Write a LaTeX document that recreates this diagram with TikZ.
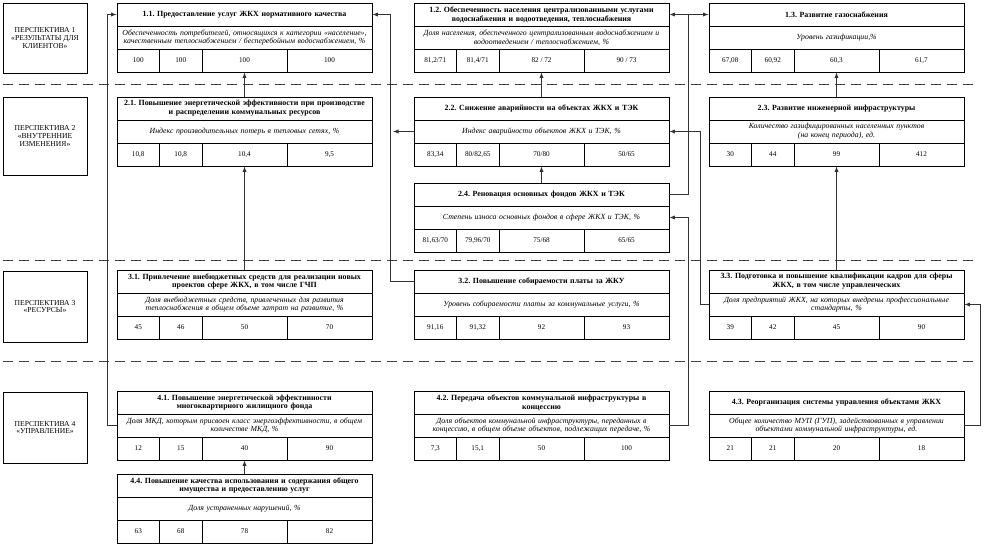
\documentclass[tikz,border=0pt]{standalone}
\usepackage{fontspec}
\setmainfont{Liberation Serif}
\usetikzlibrary{shapes,arrows}
\frenchspacing

\begin{document}
\begin{tikzpicture}[x=1pt, y=-1pt]
\tikzstyle{titler}=[rectangle, draw, line width=0.9pt, minimum height=23pt, text width=253pt, inner sep=1pt, align=center, font=\bfseries\fontsize{7.9}{8.8}\selectfont]
\tikzstyle{indr}=[rectangle, draw, line width=0.9pt, minimum height=23pt, text width=253pt, inner sep=1pt, align=center, font=\itshape\fontsize{7.8}{8.8}\selectfont]
\tikzstyle{valn}=[rectangle, draw, line width=0.9pt, minimum height=23pt, minimum width=42.5pt, inner sep=0pt, font=\fontsize{7.2}{8}\selectfont]
\tikzstyle{valw}=[valn, minimum width=85pt]
\tikzstyle{persp}=[rectangle, draw, line width=0.9pt, minimum width=84pt, minimum height=70pt, align=center, font=\fontsize{7.6}{7.6}\selectfont]
\tikzstyle{sepline}=[line width=1pt, dash pattern=on 10pt off 6pt, black!75]
\tikzstyle{drawstyle}=[line width=0.9pt, black!80, -latex]

\useasboundingbox (0,0) rectangle (986,546);

% perspectives
\node[persp] (P1) at (45,38) {ПЕРСПЕКТИВА 1\\«РЕЗУЛЬТАТЫ ДЛЯ\\КЛИЕНТОВ»};
\node[persp, minimum height=78pt] (P2) at (45,136) {ПЕРСПЕКТИВА 2\\«ВНУТРЕННИЕ\\ИЗМЕНЕНИЯ»};
\node[persp, minimum height=71pt] (P3) at (45,306.5) {ПЕРСПЕКТИВА 3\\«РЕСУРСЫ»};
\node[persp, minimum height=71pt] (P4) at (45,427.5) {ПЕРСПЕКТИВА 4\\«УПРАВЛЕНИЕ»};
\draw[sepline] (3,84) -- (975,84);
\draw[sepline] (3,260) -- (975,260);
\draw[sepline] (3,361) -- (975,361);

% 1.1
\node[titler] (T1x1) at (244.5,14.5) {1.1. Предоставление услуг ЖКХ нормативного качества};
\node[indr] (I1x1) at (244.5,37.5) {Обеспеченность потребителей, относящихся к категории «население»,\\качественным теплоснабжением / бесперебойным водоснабжением, \%};
\node[valn] (V1x1a) at (138.25,60.5) {100};
\node[valn] (V1x1b) at (180.75,60.5) {100};
\node[valw] (V1x1c) at (244.5,60.5) {100};
\node[valw] (V1x1d) at (329.5,60.5) {100};
% 1.2
\node[titler] (T1x2) at (541.5,14.5) {1.2. Обеспеченность населения централизованными услугами\\водоснабжения и водоотведения, теплоснабжения};
\node[indr] (I1x2) at (541.5,37.5) {Доля населения, обеспеченного централизованным водоснабжением и\\водоотведением / теплоснабжением, \%};
\node[valn] (V1x2a) at (435.25,60.5) {81,2/71};
\node[valn] (V1x2b) at (477.75,60.5) {81,4/71};
\node[valw] (V1x2c) at (541.5,60.5) {82 / 72};
\node[valw] (V1x2d) at (626.5,60.5) {90 / 73};
% 1.3
\node[titler] (T1x3) at (836.5,14.5) {1.3. Развитие газоснабжения};
\node[indr] (I1x3) at (836.5,37.5) {Уровень газификации,\%};
\node[valn] (V1x3a) at (730.25,60.5) {67,08};
\node[valn] (V1x3b) at (772.75,60.5) {60,92};
\node[valw] (V1x3c) at (836.5,60.5) {60,3};
\node[valw] (V1x3d) at (921.5,60.5) {61,7};
% 2.1
\node[titler] (T2x1) at (244.5,108.5) {2.1. Повышение энергетической эффективности при производстве\\и распределении коммунальных ресурсов};
\node[indr] (I2x1) at (244.5,131.5) {Индекс производительных потерь в тепловых сетях, \%};
\node[valn] (V2x1a) at (138.25,154.5) {10,8};
\node[valn] (V2x1b) at (180.75,154.5) {10,8};
\node[valw] (V2x1c) at (244.5,154.5) {10,4};
\node[valw] (V2x1d) at (329.5,154.5) {9,5};
% 2.2
\node[titler] (T2x2) at (541.5,108.5) {2.2. Снижение аварийности на объектах ЖКХ и ТЭК};
\node[indr] (I2x2) at (541.5,131.5) {Индекс аварийности объектов ЖКХ и ТЭК, \%};
\node[valn] (V2x2a) at (435.25,154.5) {83,34};
\node[valn] (V2x2b) at (477.75,154.5) {80/82,65};
\node[valw] (V2x2c) at (541.5,154.5) {70/80};
\node[valw] (V2x2d) at (626.5,154.5) {50/65};
% 2.3
\node[titler] (T2x3) at (836.5,108.5) {2.3. Развитие инженерной инфраструктуры};
\node[indr] (I2x3) at (836.5,131.5) {Количество газифицированных населенных пунктов\\(на конец периода), ед.};
\node[valn] (V2x3a) at (730.25,154.5) {30};
\node[valn] (V2x3b) at (772.75,154.5) {44};
\node[valw] (V2x3c) at (836.5,154.5) {99};
\node[valw] (V2x3d) at (921.5,154.5) {412};
% 2.4
\node[titler] (T2x4) at (541.5,194.5) {2.4. Реновация основных фондов ЖКХ и ТЭК};
\node[indr] (I2x4) at (541.5,217.5) {Степень износа основных фондов в сфере ЖКХ и ТЭК, \%};
\node[valn] (V2x4a) at (435.25,240.5) {81,63/70};
\node[valn] (V2x4b) at (477.75,240.5) {79,96/70};
\node[valw] (V2x4c) at (541.5,240.5) {75/68};
\node[valw] (V2x4d) at (626.5,240.5) {65/65};
% 3.1
\node[titler] (T3x1) at (244.5,281.5) {3.1. Привлечение внебюджетных средств для реализации новых\\проектов сфере ЖКХ, в том числе ГЧП};
\node[indr] (I3x1) at (244.5,304.5) {Доля внебюджетных средств, привлеченных для развития\\теплоснабжения в общем объеме затрат на развитие, \%};
\node[valn] (V3x1a) at (138.25,327.5) {45};
\node[valn] (V3x1b) at (180.75,327.5) {46};
\node[valw] (V3x1c) at (244.5,327.5) {50};
\node[valw] (V3x1d) at (329.5,327.5) {70};
% 3.2
\node[titler] (T3x2) at (541.5,281.5) {3.2. Повышение собираемости платы за ЖКУ};
\node[indr] (I3x2) at (541.5,304.5) {Уровень собираемости платы за коммунальные услуги, \%};
\node[valn] (V3x2a) at (435.25,327.5) {91,16};
\node[valn] (V3x2b) at (477.75,327.5) {91,32};
\node[valw] (V3x2c) at (541.5,327.5) {92};
\node[valw] (V3x2d) at (626.5,327.5) {93};
% 3.3
\node[titler] (T3x3) at (836.5,281.5) {3.3. Подготовка и повышение квалификации кадров для сферы\\ЖКХ, в том числе управленческих};
\node[indr] (I3x3) at (836.5,304.5) {Доля предприятий ЖКХ, на которых внедрены профессиональные\\стандарты, \%};
\node[valn] (V3x3a) at (730.25,327.5) {39};
\node[valn] (V3x3b) at (772.75,327.5) {42};
\node[valw] (V3x3c) at (836.5,327.5) {45};
\node[valw] (V3x3d) at (921.5,327.5) {90};
% 4.1
\node[titler] (T4x1) at (244.5,402.5) {4.1. Повышение энергетической эффективности\\многоквартирного жилищного фонда};
\node[indr] (I4x1) at (244.5,425.5) {Доля МКД, которым присвоен класс энергоэффективности, в общем\\количестве МКД, \%};
\node[valn] (V4x1a) at (138.25,448.5) {12};
\node[valn] (V4x1b) at (180.75,448.5) {15};
\node[valw] (V4x1c) at (244.5,448.5) {40};
\node[valw] (V4x1d) at (329.5,448.5) {90};
% 4.2
\node[titler] (T4x2) at (541.5,402.5) {4.2. Передача объектов коммунальной инфраструктуры в\\концессию};
\node[indr] (I4x2) at (541.5,425.5) {Доля объектов коммунальной инфраструктуры, переданных в\\концессию, в общем объеме объектов, подлежащих передаче, \%};
\node[valn] (V4x2a) at (435.25,448.5) {7,3};
\node[valn] (V4x2b) at (477.75,448.5) {15,1};
\node[valw] (V4x2c) at (541.5,448.5) {50};
\node[valw] (V4x2d) at (626.5,448.5) {100};
% 4.3
\node[titler] (T4x3) at (836.5,402.5) {4.3. Реорганизация системы управления объектами ЖКХ};
\node[indr] (I4x3) at (836.5,425.5) {Общее количество МУП (ГУП), задействованных в управлении\\объектами коммунальной инфраструктуры, ед.};
\node[valn] (V4x3a) at (730.25,448.5) {21};
\node[valn] (V4x3b) at (772.75,448.5) {21};
\node[valw] (V4x3c) at (836.5,448.5) {20};
\node[valw] (V4x3d) at (921.5,448.5) {18};
% 4.4
\node[titler] (T4x4) at (244.5,485.5) {4.4. Повышение качества использования и содержания общего\\имущества и предоставлению услуг};
\node[indr] (I4x4) at (244.5,508.5) {Доля устраненных нарушений, \%};
\node[valn] (V4x4a) at (138.25,531.5) {63};
\node[valn] (V4x4b) at (180.75,531.5) {68};
\node[valw] (V4x4c) at (244.5,531.5) {78};
\node[valw] (V4x4d) at (329.5,531.5) {82};

% links
\coordinate (J24) at (688,14.5);
\coordinate (J22) at (393,131.5);
\draw[drawstyle] (T2x1.north) -- (V1x1c.south);
\draw[drawstyle] (T3x1.north) -- (V2x1c.south);
\draw[drawstyle] (T4x4.north) -- (V4x1c.south);
\draw[drawstyle] (T2x2.north) -- (V1x2c.south);
\draw[drawstyle] (T2x4.north) -- (V2x2c.south);
\draw[drawstyle] (T2x3.north) -- (V1x3c.south);
\draw[drawstyle] (T3x3.north) -- (V2x3c.south);
\draw[drawstyle] (I4x1.west) -- ++(-9,0) |- (T1x1.west);
\draw[drawstyle] (T3x2.west) -- ++(-23,0) |- (T1x1.east);
\draw[drawstyle] (I2x2.west) -- (J22);
\draw[drawstyle] (T2x4.east) -| (J24) -- (T1x2.east);
\draw[drawstyle] (J24) -- (T1x3.west);
\draw[drawstyle] (I3x3.west) -- ++(-8,0) |- (I2x2.east);
\draw[drawstyle] (I4x2.east) -- ++(19,0) |- (I2x4.east);
\draw[drawstyle] (I4x3.east) -- ++(16,0) |- (I3x3.east);
\end{tikzpicture}
\end{document}
